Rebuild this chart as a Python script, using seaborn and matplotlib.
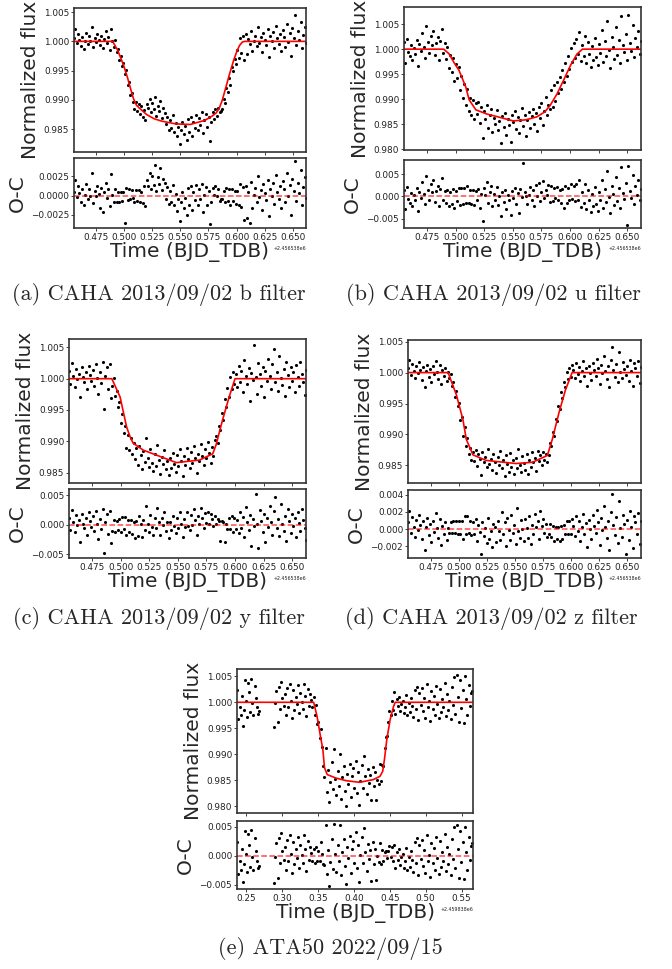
import numpy as np
import matplotlib
matplotlib.use("Agg")
import matplotlib.pyplot as plt
from matplotlib.ticker import MultipleLocator
import seaborn as sns

# ---------------------------------------------------------------- data
# CAHA 2013/09/02 run: regular cadence, times in BJD_TDB
caha_jd0 = 2456538.0
caha_t_first, caha_t_last, caha_n = 0.455, 0.662, 170
# ATA50 2022/09/15 run: two blocks separated by a short gap
ata_jd0 = 2459838.0
ata_block1 = (0.2375, 0.2675, 21)
ata_block2 = (0.2885, 0.5650, 166)

# --- b filter
flux_b = [
    1.0005, 1.0021, 0.9998, 1.0012, 1.0003, 0.9992, 1.0008, 0.9987, 1.0001, 1.0015,
    0.9995, 1.0009, 1.0000, 1.0024, 0.9990, 1.0006, 0.9999, 1.0013, 1.0002, 0.9994,
    1.0010, 0.9988, 1.0004, 1.0017, 0.9997, 1.0008, 0.9986, 1.0021, 1.0001,
    0.9990, 1.0003, 0.9981, 0.9987, 0.9968, 0.9975, 0.9958, 0.9963, 0.9944, 0.9951,
    0.9925, 0.9930, 0.9908, 0.9912, 0.9896, 0.9885, 0.9897, 0.9881, 0.9893,
    0.9876, 0.9889, 0.9870, 0.9882, 0.9866, 0.9893, 0.9887, 0.9901, 0.9879, 0.9895,
    0.9884, 0.9905, 0.9872, 0.9890, 0.9881, 0.9898, 0.9869, 0.9886, 0.9877, 0.9858,
    0.9871, 0.9849, 0.9866, 0.9852, 0.9874, 0.9845, 0.9860, 0.9838, 0.9853, 0.9824,
    0.9849, 0.9862, 0.9841, 0.9855, 0.9832, 0.9868, 0.9846, 0.9871, 0.9839, 0.9863,
    0.9852, 0.9875, 0.9848, 0.9869, 0.9857, 0.9880, 0.9843, 0.9866, 0.9876, 0.9853,
    0.9871, 0.9829, 0.9862, 0.9880, 0.9868, 0.9884, 0.9872, 0.9887, 0.9879, 0.9881,
    0.9885, 0.9902, 0.9894, 0.9921, 0.9913, 0.9938, 0.9925, 0.9956, 0.9949, 0.9970,
    0.9961, 0.9985, 0.9972, 1.0006, 0.9980, 1.0009, 0.9968,
    1.0012, 0.9978, 1.0004, 0.9995, 1.0018, 0.9984, 1.0001, 1.0010, 0.9992, 1.0025,
    0.9998, 1.0007, 0.9981, 1.0015, 1.0003, 0.9994, 1.0021, 0.9973, 1.0009, 1.0000,
    1.0016, 0.9989, 1.0027, 1.0005, 0.9996, 1.0012, 0.9983, 1.0019, 1.0008, 0.9991,
    1.0030, 0.9999, 1.0014, 0.9975, 1.0022, 1.0006, 1.0045, 0.9993, 1.0017, 1.0003,
    1.0033, 0.9988, 1.0011, 1.0024, 0.9997,
]
oc_b = [
    0.0005, 0.0021, -0.0002, 0.0012, 0.0003, -0.0008, 0.0008, -0.0013, 0.0001, 0.0015,
    -0.0005, 0.0009, 0.0000, 0.0030, -0.0010, 0.0006, -0.0001, 0.0013, 0.0002, -0.0016,
    0.0010, -0.0022, 0.0004, 0.0017, -0.0003, 0.0008, -0.0014, 0.0028, 0.0001,
    -0.0008, 0.0009, -0.0008, 0.0004, -0.0009, 0.0004, -0.0007, 0.0005, -0.0036, 0.0010,
    -0.0006, 0.0009, -0.0004, 0.0007, -0.0003, -0.0009, 0.0007, -0.0007, 0.0007,
    -0.0008, 0.0005, -0.0010, 0.0012, -0.0014, 0.0021, 0.0013, 0.0029, 0.0008, 0.0025,
    0.0014, 0.0040, 0.0006, 0.0024, 0.0015, 0.0036, 0.0007, 0.0022, 0.0016, -0.0004,
    0.0011, -0.0011, 0.0006, -0.0008, 0.0014, -0.0013, 0.0002, -0.0020, -0.0005, -0.0034,
    -0.0009, 0.0004, -0.0017, -0.0003, -0.0026, 0.0010, -0.0012, 0.0012, -0.0019, 0.0005,
    -0.0006, 0.0014, -0.0013, 0.0008, -0.0004, 0.0015, -0.0022, 0.0001, 0.0011, -0.0012,
    0.0006, -0.0037, -0.0008, 0.0010, 0.0001, 0.0012, 0.0000, 0.0008, -0.0007, -0.0005,
    -0.0005, 0.0006, -0.0009, 0.0010, -0.0007, 0.0009, -0.0013, 0.0009, -0.0007, 0.0006,
    -0.0011, 0.0006, -0.0013, 0.0015, -0.0015, 0.0011, -0.0032,
    0.0012, -0.0030, 0.0004, -0.0036, 0.0018, -0.0016, 0.0001, 0.0010, -0.0008, 0.0025,
    -0.0002, 0.0007, -0.0019, 0.0015, 0.0003, -0.0006, 0.0021, -0.0027, 0.0009, 0.0000,
    0.0016, -0.0011, 0.0027, 0.0005, -0.0004, 0.0012, -0.0017, 0.0019, 0.0008, -0.0009,
    0.0030, -0.0001, 0.0014, -0.0025, 0.0022, 0.0006, 0.0045, -0.0007, 0.0017, 0.0003,
    0.0033, -0.0012, 0.0011, 0.0024, -0.0003,
]
model_t_b = [0.455, 0.4895, 0.4939, 0.4991, 0.5029, 0.5055, 0.5081, 0.5107, 0.5133,
             0.5198, 0.5263, 0.5327, 0.5457, 0.5586, 0.5716, 0.5780, 0.5820, 0.5846,
             0.5872, 0.5897, 0.5936, 0.5975, 0.6001, 0.6027, 0.6053, 0.6075, 0.662]
model_f_b = [1.0, 1.0, 0.9985, 0.9960, 0.9937, 0.9919, 0.9902, 0.9891, 0.9886,
             0.9875, 0.9868, 0.9864, 0.9859, 0.9858, 0.9865, 0.9872, 0.9878, 0.9886,
             0.9899, 0.9916, 0.9943, 0.9968, 0.9982, 0.9993, 0.9999, 1.0, 1.0]

# --- u filter
flux_u = [
    1.0015, 0.9972, 1.0021, 0.9995, 0.9986, 1.0008, 0.9978, 1.0003, 0.9991, 1.0019,
    0.9967, 1.0011, 0.9997, 1.0032, 1.0005, 0.9982, 1.0046, 1.0014, 0.9993, 1.0027,
    1.0009, 1.0036, 0.9988, 1.0012, 1.0024, 0.9979, 1.0017, 1.0041, 0.9992,
    1.0012, 0.9981, 1.0004, 0.9962, 0.9989, 0.9954, 0.9983, 0.9936, 0.9971, 0.9942,
    0.9965, 0.9918, 0.9947, 0.9902, 0.9931, 0.9889, 0.9921, 0.9877, 0.9902, 0.9869,
    0.9898, 0.9861, 0.9892,
    0.9871, 0.9895, 0.9852, 0.9884, 0.9823, 0.9876, 0.9860, 0.9889, 0.9842, 0.9868,
    0.9881, 0.9835, 0.9863, 0.9850, 0.9878, 0.9838, 0.9857, 0.9812, 0.9866, 0.9845,
    0.9872, 0.9828, 0.9861, 0.9849, 0.9815, 0.9869, 0.9854, 0.9877, 0.9841, 0.9864,
    0.9832, 0.9858, 0.9883, 0.9847, 0.9869, 0.9826, 0.9859, 0.9874, 0.9843, 0.9866,
    0.9880, 0.9851, 0.9872, 0.9836, 0.9884, 0.9862, 0.9893, 0.9849, 0.9877, 0.9905,
    0.9868, 0.9889, 0.9880,
    0.9918, 0.9884, 0.9929, 0.9896, 0.9934, 0.9912, 0.9944, 0.9921, 0.9958, 0.9935,
    0.9973, 0.9947, 0.9986, 0.9961, 1.0002, 0.9974, 1.0013, 0.9983, 1.0021, 0.9991,
    1.0035, 0.9976, 1.0009,
    0.9986, 1.0027, 0.9972, 1.0014, 0.9991, 0.9965, 1.0006, 0.9979, 1.0022, 0.9984,
    0.9968, 1.0011, 0.9993, 1.0038, 0.9975, 1.0016, 0.9987, 1.0057, 0.9998, 0.9962,
    1.0024, 1.0005, 0.9981, 1.0044, 0.9989, 1.0019, 0.9973, 1.0066, 1.0008, 0.9994,
    1.0031, 0.9978, 1.0068, 1.0012, 0.9997, 1.0049, 0.9984, 1.0023, 1.0004, 1.0036,
    0.9991, 1.0017,
]
oc_u = [
    0.0015, -0.0028, 0.0021, -0.0005, -0.0014, 0.0008, -0.0022, 0.0003, -0.0009, 0.0019,
    -0.0033, 0.0011, -0.0003, 0.0032, 0.0005, -0.0018, 0.0046, 0.0014, -0.0007, 0.0027,
    0.0009, 0.0036, -0.0012, 0.0012, 0.0024, -0.0021, 0.0017, 0.0041, -0.0008, 0.0013,
    -0.0014, 0.0014, -0.0022, 0.0011, -0.0018, 0.0016, -0.0027, 0.0012, -0.0011, 0.0019,
    -0.0020, 0.0018, -0.0018, 0.0020, -0.0014, 0.0024, -0.0015, 0.0014, -0.0016, 0.0015,
    -0.0020, 0.0013, -0.0007, 0.0017, -0.0026, 0.0006, -0.0055, 0.0019, 0.0003, 0.0032,
    -0.0015, 0.0011, 0.0024, -0.0022, 0.0006, -0.0007, 0.0021, -0.0019, 0.0001, -0.0045,
    0.0009, -0.0012, 0.0015, -0.0029, 0.0004, -0.0008, -0.0042, 0.0012, -0.0003, 0.0020,
    -0.0016, 0.0007, -0.0038, 0.0016, -0.0002, 0.0075, 0.0010, 0.0002, -0.0018, 0.0004,
    0.0022, -0.0007, 0.0014, -0.0021, 0.0026, 0.0002, 0.0031, -0.0011, 0.0011, 0.0035,
    -0.0004, 0.0014, 0.0004, 0.0026, -0.0013, 0.0023, -0.0011, 0.0019, -0.0004, 0.0021,
    -0.0009, 0.0014, -0.0014, 0.0016, -0.0026, 0.0024, -0.0015, 0.0018, -0.0007, 0.0028,
    -0.0006, 0.0024, -0.0010, 0.0028, -0.0007, 0.0036, -0.0024, 0.0009, -0.0014, 0.0027,
    -0.0028, 0.0014, -0.0009, -0.0035, 0.0006, -0.0021, 0.0022, -0.0016, -0.0032, 0.0011,
    -0.0007, 0.0038, -0.0025, 0.0016, -0.0013, 0.0057, -0.0002, -0.0038, 0.0024, 0.0005,
    -0.0019, 0.0044, -0.0011, 0.0019, -0.0027, 0.0066, 0.0008, -0.0006, 0.0031, -0.0064,
    0.0068, 0.0012, -0.0003, 0.0049, -0.0016, 0.0023, 0.0004, 0.0036, -0.0009, 0.0017,
]
model_t_u = [0.455, 0.4897, 0.4942, 0.4990, 0.5030, 0.5089, 0.5119, 0.5178, 0.5270,
             0.5355, 0.5503, 0.5610, 0.5710, 0.5780, 0.5827, 0.5887, 0.5950, 0.6005,
             0.6060, 0.6108, 0.662]
model_f_u = [1.0, 1.0, 0.9991, 0.9972, 0.9958, 0.9925, 0.9899, 0.9879, 0.9871,
             0.9866, 0.9857, 0.9859, 0.9865, 0.9875, 0.9888, 0.9911, 0.9941, 0.9968,
             0.9990, 1.0, 1.0]

# --- y filter
flux_y = [
    1.0012, 0.9991, 1.0025, 1.0004, 0.9987, 1.0016, 0.9999, 1.0008, 0.9970, 1.0019,
    1.0002, 0.9994, 1.0011, 0.9983, 1.0021, 1.0006, 0.9996, 1.0014, 0.9989, 1.0023,
    1.0001, 0.9975, 1.0010, 0.9993, 1.0027, 0.9952, 1.0005, 1.0018, 0.9984, 1.0024,
    0.9969,
    0.9988, 1.0001, 0.9972, 0.9981, 0.9955, 0.9962, 0.9930, 0.9944, 0.9913, 0.9925,
    0.9889, 0.9910, 0.9886, 0.9905, 0.9879,
    0.9897, 0.9871, 0.9889, 0.9862, 0.9893, 0.9878, 0.9856, 0.9884, 0.9867, 0.9905,
    0.9874, 0.9859, 0.9888, 0.9866, 0.9852, 0.9879, 0.9861, 0.9894, 0.9870, 0.9848,
    0.9875, 0.9863, 0.9886, 0.9855, 0.9869, 0.9846, 0.9873, 0.9858, 0.9881, 0.9864,
    0.9851, 0.9878, 0.9860, 0.9887, 0.9868, 0.9845, 0.9876, 0.9862, 0.9890, 0.9871,
    0.9857, 0.9883, 0.9866, 0.9892, 0.9874, 0.9849, 0.9880, 0.9868, 0.9895, 0.9877,
    0.9862, 0.9888, 0.9873, 0.9899, 0.9881, 0.9866, 0.9891, 0.9877, 0.9902,
    0.9909, 0.9897, 0.9925, 0.9918, 0.9946, 0.9934, 0.9968, 0.9955, 0.9985, 0.9971,
    1.0002, 0.9983, 1.0011, 0.9992,
    1.0008, 0.9986, 1.0021, 0.9995, 1.0013, 0.9979, 1.0030, 1.0004, 0.9991, 1.0017,
    0.9964, 1.0009, 0.9998, 1.0054, 1.0002, 0.9976, 1.0025, 1.0007, 0.9988, 1.0019,
    0.9971, 1.0012, 0.9996, 1.0032, 1.0005, 0.9983, 1.0023, 1.0047, 0.9994, 1.0010,
    0.9980, 1.0036, 1.0001, 0.9990, 1.0015, 0.9972, 1.0027, 1.0006, 0.9986, 1.0018,
    0.9997, 1.0011, 0.9979, 1.0022, 1.0003, 0.9989, 1.0026, 1.0008, 0.9995, 0.9974,
    1.0014,
]
oc_y = [
    0.0012, -0.0009, 0.0025, 0.0004, -0.0013, 0.0016, -0.0001, 0.0008, -0.0030, 0.0019,
    0.0002, -0.0006, 0.0011, -0.0017, 0.0021, 0.0006, -0.0004, 0.0014, -0.0011, 0.0023,
    0.0001, -0.0025, 0.0010, -0.0007, 0.0027, -0.0048, 0.0005, 0.0018, -0.0016, 0.0024,
    -0.0031, -0.0011, 0.0008, -0.0012, 0.0007, -0.0009, 0.0009, -0.0012, 0.0013, -0.0008,
    0.0013, -0.0017, 0.0008, -0.0013, 0.0008, -0.0016, 0.0004, -0.0022, 0.0007, -0.0019,
    0.0015, 0.0001, -0.0021, 0.0008, -0.0009, 0.0031, 0.0001, -0.0013, 0.0017, -0.0004,
    -0.0017, 0.0011, -0.0006, 0.0028, 0.0005, -0.0017, 0.0011, -0.0001, 0.0021, -0.0011,
    0.0005, -0.0023, 0.0005, -0.0009, 0.0015, -0.0002, -0.0015, 0.0012, -0.0006, 0.0021,
    0.0002, -0.0021, 0.0010, -0.0004, 0.0022, -0.0003, -0.0009, 0.0017, 0.0000, 0.0026,
    0.0008, -0.0017, 0.0014, 0.0002, 0.0029, 0.0011, -0.0005, 0.0020, 0.0003, 0.0022,
    0.0001, 0.0019, 0.0010, -0.0003, 0.0014, 0.0002, 0.0010, 0.0007, -0.0028, 0.0006,
    0.0005, -0.0029, 0.0002, -0.0007, 0.0011, -0.0008, 0.0014, -0.0012, 0.0011, -0.0008,
    0.0008, -0.0014, 0.0021, -0.0005, 0.0013, -0.0021, 0.0030, 0.0004, -0.0009, 0.0017,
    -0.0036, 0.0009, -0.0002, 0.0053, 0.0002, -0.0040, 0.0025, 0.0007, -0.0012, 0.0019,
    -0.0029, 0.0012, -0.0004, 0.0032, 0.0005, -0.0017, 0.0023, 0.0048, -0.0006, 0.0010,
    -0.0020, 0.0036, 0.0001, -0.0010, 0.0015, -0.0028, 0.0027, 0.0006, -0.0014, 0.0018,
    -0.0003, 0.0011, -0.0021, 0.0022, 0.0003, -0.0011, 0.0026, 0.0008, -0.0005, -0.0026,
]
model_t_y = [0.455, 0.4924, 0.4996, 0.5053, 0.5082, 0.5110, 0.5198, 0.5342, 0.5487,
             0.5689, 0.5805, 0.5834, 0.5891, 0.5949, 0.6000, 0.662]
model_f_y = [1.0, 1.0, 0.9971, 0.9923, 0.9908, 0.9897, 0.9886, 0.9876, 0.9866,
             0.9870, 0.9880, 0.9894, 0.9934, 0.9971, 1.0, 1.0]

# --- z filter
flux_z = [
    1.0008, 1.0021, 0.9996, 1.0014, 1.0003, 0.9991, 1.0011, 0.9999, 1.0017, 1.0005,
    0.9988, 1.0009, 0.9976, 1.0002, 1.0013, 0.9993, 1.0006, 0.9985, 1.0010, 0.9997,
    1.0019, 1.0001, 0.9990, 1.0012, 0.9982, 1.0004, 0.9994, 1.0008, 0.9987, 1.0001,
    0.9991, 0.9998, 0.9979, 0.9984, 0.9961, 0.9970, 0.9946, 0.9951, 0.9924, 0.9929,
    0.9897, 0.9912, 0.9881, 0.9894, 0.9868, 0.9878, 0.9859, 0.9872,
    0.9857, 0.9875, 0.9849, 0.9868, 0.9860, 0.9834, 0.9871, 0.9855, 0.9864, 0.9847,
    0.9876, 0.9852, 0.9861, 0.9842, 0.9869, 0.9856, 0.9838, 0.9863, 0.9850, 0.9873,
    0.9845, 0.9859, 0.9833, 0.9866, 0.9852, 0.9840, 0.9870, 0.9848, 0.9858, 0.9836,
    0.9862, 0.9845, 0.9877, 0.9851, 0.9839, 0.9865, 0.9854, 0.9843, 0.9868, 0.9836,
    0.9858, 0.9847, 0.9871, 0.9855, 0.9862, 0.9841, 0.9874, 0.9857, 0.9866, 0.9850,
    0.9872, 0.9859, 0.9868, 0.9855,
    0.9866, 0.9886, 0.9881, 0.9904, 0.9897, 0.9925, 0.9921, 0.9946, 0.9941, 0.9968,
    0.9959, 0.9985, 0.9976, 1.0001, 0.9989, 1.0008, 0.9993, 1.0012,
    1.0004, 0.9992, 1.0015, 0.9998, 1.0009, 0.9986, 1.0002, 1.0018, 0.9994, 1.0007,
    0.9979, 1.0011, 1.0000, 0.9988, 1.0016, 1.0004, 0.9995, 1.0022, 1.0008, 0.9982,
    1.0013, 0.9999, 1.0027, 1.0003, 0.9990, 1.0010, 0.9976, 1.0020, 1.0041, 1.0005,
    0.9993, 1.0014, 0.9984, 1.0033, 1.0001, 0.9991, 1.0017, 1.0006, 0.9996, 1.0011,
    0.9987, 1.0021, 1.0002, 0.9978, 1.0015, 1.0008, 0.9994, 1.0019, 0.9983, 1.0009,
]
oc_z = [
    0.0008, 0.0021, -0.0004, 0.0014, 0.0003, -0.0009, 0.0011, -0.0001, 0.0017, 0.0005,
    -0.0012, 0.0009, -0.0024, 0.0002, 0.0013, -0.0007, 0.0006, -0.0015, 0.0010, -0.0003,
    0.0019, 0.0001, -0.0010, 0.0012, -0.0018, 0.0004, -0.0006, 0.0008, -0.0013, 0.0001,
    -0.0005, 0.0008, -0.0004, 0.0009, -0.0005, 0.0010, -0.0006, 0.0009, -0.0006, 0.0009,
    -0.0011, 0.0015, -0.0006, 0.0015, -0.0005, 0.0009, -0.0007, 0.0008, -0.0006, 0.0012,
    -0.0014, 0.0005, -0.0003, -0.0029, 0.0008, -0.0008, 0.0001, -0.0016, 0.0013, -0.0011,
    -0.0002, -0.0021, 0.0006, 0.0003, -0.0015, 0.0010, -0.0002, -0.0013, 0.0020, -0.0006,
    0.0008, -0.0020, 0.0013, -0.0001, -0.0013, 0.0017, -0.0005, 0.0005, -0.0017, 0.0024,
    -0.0002, -0.0010, 0.0011, 0.0000, -0.0014, 0.0012, 0.0001, -0.0010, 0.0015, -0.0017,
    0.0005, -0.0006, 0.0018, 0.0002, 0.0009, -0.0012, 0.0021, 0.0004, 0.0012, -0.0004,
    0.0006, -0.0009, -0.0006, 0.0006, -0.0009, 0.0004, -0.0014, 0.0003, -0.0011, 0.0002,
    -0.0014, 0.0004, -0.0011, 0.0005, -0.0006, 0.0010, -0.0006, 0.0010, -0.0006, 0.0012,
    0.0004, -0.0008, 0.0015, -0.0002, 0.0009, -0.0014, 0.0002, 0.0018, -0.0006, 0.0007,
    -0.0021, 0.0011, 0.0000, -0.0012, 0.0016, 0.0004, -0.0005, 0.0022, 0.0008, -0.0018,
    0.0013, -0.0001, 0.0027, 0.0003, -0.0010, 0.0010, -0.0024, 0.0020, 0.0041, 0.0005,
    -0.0007, 0.0014, -0.0016, 0.0033, 0.0001, -0.0009, 0.0017, 0.0006, -0.0029, 0.0011,
    -0.0013, 0.0021, 0.0002, -0.0022, 0.0015, 0.0008, -0.0006, 0.0019, -0.0017, 0.0009,
]
model_t_z = [0.455, 0.4906, 0.4980, 0.5038, 0.5068, 0.5127, 0.5244, 0.5509, 0.5656,
             0.5788, 0.5832, 0.5891, 0.5949, 0.6008, 0.662]
model_f_z = [1.0, 1.0, 0.9964, 0.9924, 0.9892, 0.9867, 0.9858, 0.9853, 0.9855,
             0.9866, 0.9892, 0.9935, 0.9972, 1.0, 1.0]

# --- ATA50
flux_ata = [
    1.0023, 0.9968, 0.9991, 0.9975, 1.0012, 0.9955, 0.9986, 1.0042, 1.0003, 0.9972,
    1.0038, 1.0019, 0.9981, 1.0045, 0.9998, 0.9976, 1.0031, 1.0008, 0.9990, 0.9978,
    0.9983,
    0.9953, 0.9998, 1.0021, 0.9962, 1.0030, 0.9987, 1.0039, 1.0008, 0.9992, 1.0015,
    0.9976, 1.0027, 0.9990, 1.0035, 1.0003, 0.9970, 1.0024, 0.9985, 1.0011, 0.9996,
    1.0033, 0.9979, 1.0018, 1.0001, 0.9988, 1.0036, 1.0012, 0.9974, 1.0026, 0.9993,
    1.0015, 1.0004, 0.9991,
    1.0010, 0.9976, 0.9994, 0.9958, 0.9962, 0.9931, 0.9949, 0.9915, 0.9878,
    0.9857, 0.9912, 0.9828, 0.9869, 0.9808, 0.9846, 0.9885, 0.9833, 0.9910, 0.9852,
    0.9821, 0.9868, 0.9839, 0.9900, 0.9815, 0.9856, 0.9878, 0.9830, 0.9800, 0.9862,
    0.9843, 0.9881, 0.9817, 0.9858, 0.9874, 0.9835, 0.9888, 0.9826, 0.9866, 0.9802,
    0.9849, 0.9880, 0.9836, 0.9897, 0.9858, 0.9824, 0.9871, 0.9845, 0.9861, 0.9812,
    0.9876, 0.9840, 0.9866, 0.9812, 0.9851, 0.9843, 0.9882, 0.9849,
    0.9880, 0.9878, 0.9912, 0.9934, 0.9936, 0.9962, 0.9983, 0.9975, 1.0002, 0.9985,
    1.0019,
    0.9978, 1.0006, 0.9992, 1.0011, 0.9984, 0.9997, 1.0003, 0.9979, 0.9990, 1.0014,
    0.9975, 0.9998, 0.9981, 1.0008, 0.9993, 0.9972, 1.0024, 0.9987, 1.0030, 0.9966,
    1.0018, 0.9995, 1.0027, 0.9983, 1.0009, 0.9970, 1.0035, 0.9991, 1.0002, 0.9964,
    1.0021, 0.9988, 1.0013, 0.9976, 1.0032, 0.9996, 0.9969, 1.0026, 0.9981, 1.0007,
    0.9990, 1.0038, 0.9973, 1.0015, 0.9986, 1.0003, 0.9967, 1.0029, 0.9994, 1.0049,
    0.9978, 1.0052, 1.0011, 0.9962, 1.0043, 0.9989, 1.0024, 0.9960, 1.0050, 1.0006,
    0.9975, 1.0033, 0.9992, 1.0017, 1.0021,
]
oc_ata = [
    0.0023, -0.0032, -0.0009, -0.0025, 0.0012, -0.0045, -0.0014, 0.0042, 0.0003, -0.0028,
    0.0038, 0.0019, -0.0019, 0.0045, -0.0002, -0.0024, 0.0031, 0.0008, -0.0010, -0.0022,
    -0.0017,
    -0.0047, -0.0002, 0.0021, -0.0038, 0.0030, -0.0013, 0.0039, 0.0008, -0.0008, 0.0015,
    -0.0024, 0.0027, -0.0010, 0.0035, 0.0003, -0.0030, 0.0024, -0.0015, 0.0011, -0.0004,
    0.0033, -0.0021, 0.0018, 0.0001, -0.0012, 0.0036, 0.0012, -0.0026, 0.0026, -0.0007,
    0.0015, 0.0004, -0.0009, 0.0011, -0.0013, 0.0015, -0.0010, 0.0008, -0.0009, 0.0023,
    0.0003, -0.0014,
    -0.0016, 0.0052, -0.0032, 0.0009, -0.0052, -0.0011, 0.0028, -0.0023, 0.0055, 0.0003,
    -0.0028, 0.0019, -0.0009, 0.0053, -0.0033, 0.0007, 0.0029, -0.0018, -0.0048, 0.0015,
    -0.0004, 0.0034, -0.0030, 0.0011, 0.0026, -0.0013, 0.0041, -0.0021, 0.0019, -0.0045,
    0.0002, 0.0032, -0.0012, 0.0048, 0.0007, -0.0027, 0.0020, -0.0006, 0.0009, -0.0043,
    0.0024, -0.0014, 0.0011, -0.0042, 0.0000, -0.0011, 0.0022, -0.0015,
    0.0010, -0.0009, 0.0007, 0.0008, -0.0004, 0.0008, 0.0016, -0.0003, 0.0015, -0.0010,
    0.0019,
    -0.0022, 0.0006, -0.0008, 0.0011, -0.0016, -0.0003, 0.0003, -0.0021, -0.0010, 0.0014,
    -0.0025, -0.0002, -0.0019, 0.0008, -0.0007, -0.0028, 0.0024, -0.0013, 0.0030, -0.0034,
    0.0018, -0.0005, 0.0027, -0.0017, 0.0009, -0.0030, 0.0035, -0.0009, 0.0002, -0.0036,
    0.0021, -0.0012, 0.0013, -0.0024, 0.0032, -0.0004, -0.0031, 0.0026, -0.0019, 0.0007,
    -0.0010, 0.0038, -0.0027, 0.0015, -0.0014, 0.0003, -0.0033, 0.0029, -0.0006, 0.0049,
    -0.0022, 0.0052, 0.0011, -0.0038, 0.0043, -0.0011, 0.0024, -0.0040, 0.0050, 0.0006,
    -0.0025, 0.0033, -0.0008, 0.0017, 0.0021,
]
model_t_ata = [0.237, 0.3439, 0.3486, 0.3533, 0.3567, 0.3590, 0.3628, 0.3747, 0.3889,
               0.4079, 0.4268, 0.4363, 0.4401, 0.4425, 0.4458, 0.4505, 0.4553, 0.4576,
               0.566]
model_f_ata = [1.0, 1.0, 0.9973, 0.9935, 0.9909, 0.9874, 0.9861, 0.98545, 0.98494,
               0.98462, 0.98513, 0.98577, 0.98673, 0.98897, 0.99282, 0.99667, 0.99923,
               1.0, 1.0]

captions = ["(a) CAHA 2013/09/02 b filter", "(b) CAHA 2013/09/02 u filter",
            "(c) CAHA 2013/09/02 y filter", "(d) CAHA 2013/09/02 z filter",
            "(e) ATA50 2022/09/15"]

# ---------------------------------------------------------------- figure
sns.set_style("ticks")
plt.rcParams["font.family"] = ["DejaVu Sans"]

W, H = 672, 969
fig = plt.figure(figsize=(W / 100, H / 100), dpi=100)

caha_t = caha_jd0 + np.linspace(caha_t_first, caha_t_last, caha_n)
ata_t = ata_jd0 + np.concatenate([np.linspace(*ata_block1), np.linspace(*ata_block2)])

panels = [
    dict(t=caha_t, f=flux_b, oc=oc_b, mt=caha_jd0 + np.array(model_t_b), mf=model_f_b,
         xlim=(caha_jd0 + 0.455, caha_jd0 + 0.662), xstep=0.025,
         fy=(0.9811, 1.0057), ry=(-0.00427, 0.00493), rstep=0.0025,
         box=(74, 306, 8, 152, 158, 228)),
    dict(t=caha_t, f=flux_u, oc=oc_u, mt=caha_jd0 + np.array(model_t_u), mf=model_f_u,
         xlim=(caha_jd0 + 0.455, caha_jd0 + 0.662), xstep=0.025,
         fy=(0.9799, 1.0084), ry=(-0.0071, 0.0082), rstep=0.005,
         box=(404, 641, 7, 150, 160, 228)),
    dict(t=caha_t, f=flux_y, oc=oc_y, mt=caha_jd0 + np.array(model_t_y), mf=model_f_y,
         xlim=(caha_jd0 + 0.455, caha_jd0 + 0.662), xstep=0.025,
         fy=(0.98334, 1.00634), ry=(-0.00568, 0.00608), rstep=0.005,
         box=(69, 306, 339, 483, 489, 558)),
    dict(t=caha_t, f=flux_z, oc=oc_z, mt=caha_jd0 + np.array(model_t_z), mf=model_f_z,
         xlim=(caha_jd0 + 0.455, caha_jd0 + 0.662), xstep=0.025,
         fy=(0.98215, 1.00527), ry=(-0.00336, 0.00455), rstep=0.002,
         box=(408, 641, 340, 483, 490, 558)),
    dict(t=ata_t, f=flux_ata, oc=oc_ata, mt=ata_jd0 + np.array(model_t_ata), mf=model_f_ata,
         xlim=(ata_jd0 + 0.237, ata_jd0 + 0.566), xstep=0.05,
         fy=(0.97872, 1.0064), ry=(-0.00574, 0.00597), rstep=0.005,
         box=(237, 473, 669, 813, 821, 889)),
]
caption_pos = [(159, 294), (493, 294), (159, 619), (491, 619), (330, 949)]


def add_ax(l, r, t, b):
    return fig.add_axes([l / W, 1 - b / H, (r - l) / W, (b - t) / H])


def style(ax):
    for sp in ax.spines.values():
        sp.set_color("#333333")
        sp.set_linewidth(1.2)
    ax.tick_params(labelsize=6.4, length=2, width=0.6, pad=1.5, colors="#222222")


for p, cap, (cx, cy) in zip(panels, captions, caption_pos):
    l, r, t1, b1, t2, b2 = p["box"]
    ax1 = add_ax(l, r, t1, b1)
    ax2 = add_ax(l, r, t2, b2)

    sns.scatterplot(x=p["t"], y=p["f"], ax=ax1, s=5, color="black",
                    linewidth=0, legend=False)
    sns.lineplot(x=p["mt"], y=p["mf"], ax=ax1, color="red", lw=1.2,
                 sort=False, estimator=None)
    sns.scatterplot(x=p["t"], y=p["oc"], ax=ax2, s=5, color="black",
                    linewidth=0, legend=False)
    ax2.axhline(0, color="red", ls="--", lw=1.1, alpha=0.7)

    for ax in (ax1, ax2):
        ax.set_xlim(*p["xlim"])
        ax.xaxis.set_major_locator(MultipleLocator(p["xstep"]))
        style(ax)
    ax1.set_ylim(*p["fy"])
    ax2.set_ylim(*p["ry"])
    ax1.yaxis.set_major_locator(MultipleLocator(0.005))
    ax2.yaxis.set_major_locator(MultipleLocator(p["rstep"]))
    ax1.tick_params(labelbottom=False)

    ax1.set_ylabel("Normalized flux", fontsize=14.5, labelpad=3)
    ax2.set_ylabel("O-C", fontsize=14.5, labelpad=3)
    ax2.set_xlabel("Time (BJD_TDB)", fontsize=14.5, labelpad=0)
    ax2.xaxis.get_offset_text().set_fontsize(3.4)

    fig.text(cx / W, 1 - cy / H, cap, fontfamily="cmr10", fontsize=16,
             ha="center", va="center")

fig.savefig("out.png", dpi=100)
